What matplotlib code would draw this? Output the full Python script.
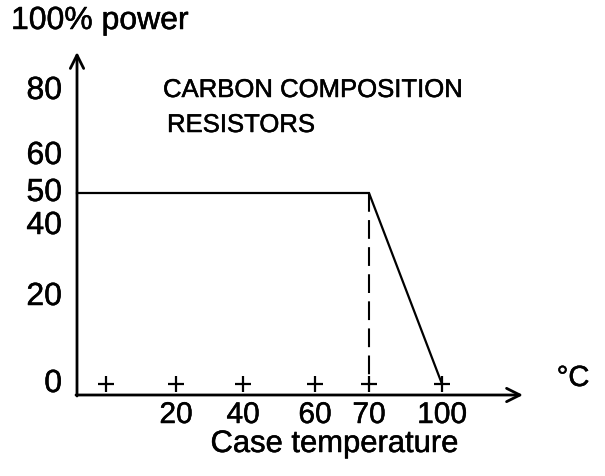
import numpy as np
import matplotlib
matplotlib.use("Agg")
import matplotlib.pyplot as plt
import matplotlib.transforms as mtrans
import matplotlib.patheffects as pe

# ---------------- data ----------------
temps = [0, 20, 40, 60, 70, 100]
temp_labels = ["", "20", "40", "60", "70", "100"]
power_ticks = [0, 20, 40, 50, 60, 80]
power_labels = ["0", "20", "40", "50", "60", "80"]
curve_temp = [70, 100]          # knee and zero-power point (flat part starts at the y axis)
curve_power = [50, 0]
flat_power = 50
knee_temp = [70, 70]
knee_power = [50, 0]

# ---------------- layout (schematic, non-uniform scales of the drawing) ----------------
W, H = 605, 477
x_scale_vals = [0, 20, 40, 60, 70, 100]
x_scale_px = [106, 176, 243, 315, 369, 442]
y_scale_vals = [0, 20, 40, 50, 60, 80]
y_scale_px = [92, 179, 250, 283, 320, 385]   # measured from bottom
YAXIS_PX = 77
XAXIS_PX = 396


def piecewise(xs, ys):
    xs = np.asarray(xs, float)
    ys = np.asarray(ys, float)
    s0 = (ys[1] - ys[0]) / (xs[1] - xs[0])
    s1 = (ys[-1] - ys[-2]) / (xs[-1] - xs[-2])

    def f(v):
        v = np.asarray(v, float)
        out = np.interp(v, xs, ys)
        out = np.where(v < xs[0], ys[0] + (v - xs[0]) * s0, out)
        out = np.where(v > xs[-1], ys[-1] + (v - xs[-1]) * s1, out)
        return out
    return f


fx, fxi = piecewise(x_scale_vals, x_scale_px), piecewise(x_scale_px, x_scale_vals)
fy, fyi = piecewise(y_scale_vals, y_scale_px), piecewise(y_scale_px, y_scale_vals)

plt.rcParams['font.family'] = ['Liberation Sans', 'DejaVu Sans']
bold_fx = [pe.withStroke(linewidth=0.35, foreground='black')]

fig = plt.figure(figsize=(W / 100, H / 100), dpi=100)
ax = fig.add_axes([0, 0, 1, 1])
ax.set_xscale('function', functions=(fx, fxi))
ax.set_yscale('function', functions=(fy, fyi))
ax.set_xlim(float(fxi(0)), float(fxi(W)))
ax.set_ylim(float(fyi(0)), float(fyi(H)))
ax.axis('off')


def P(x, y):
    """pixel position (from top-left) -> figure fraction"""
    return (x / W, 1 - y / H)


# axes with arrows
axis_kw = dict(arrowstyle='->', lw=2.0, color='black', mutation_scale=24,
               shrinkA=0, shrinkB=0)
ax.annotate('', xy=P(YAXIS_PX, 53), xytext=P(YAXIS_PX, XAXIS_PX + 1),
            xycoords='figure fraction', textcoords='figure fraction', arrowprops=axis_kw)
ax.annotate('', xy=P(523, XAXIS_PX), xytext=P(YAXIS_PX - 1, XAXIS_PX),
            xycoords='figure fraction', textcoords='figure fraction', arrowprops=axis_kw)

# derating curve: flat from the y axis to the knee, then linear down
axis_temp = float(fxi(YAXIS_PX))
ax.plot([axis_temp] + curve_temp, [flat_power] + curve_power, color='black', lw=1.6,
        solid_joinstyle='miter')
ax.plot(knee_temp, knee_power, color='black', lw=1.5, linestyle=(0, (9, 4)))

# tick crosses
ax.plot(temps, [0] * len(temps), linestyle='none', marker='+', ms=12,
        mew=1.6, color='black')

# tick labels
xlab_tr = ax.transData + mtrans.ScaledTranslation(0, -31 / 100, fig.dpi_scale_trans)
for t, lab in zip(temps, temp_labels):
    if lab:
        ax.text(t, 0, lab, ha='center', va='center', fontsize=21.5,
                transform=xlab_tr, path_effects=bold_fx)
ylab_tr = mtrans.blended_transform_factory(fig.transFigure, ax.transData)
for p, lab in zip(power_ticks, power_labels):
    ax.text(62 / W, p, lab, ha='right', va='center', fontsize=23,
            transform=ylab_tr, path_effects=bold_fx)

# titles / annotations
fig.text(*P(11, 22), '100% power', ha='left', va='center', fontsize=23, path_effects=bold_fx)
fig.text(*P(573, 379), '°C', ha='center', va='center', fontsize=21, path_effects=bold_fx)
fig.text(*P(335, 445), 'Case temperature', ha='center', va='center', fontsize=22.3,
         path_effects=bold_fx)
fig.text(*P(163, 91), 'CARBON COMPOSITION', ha='left', va='center', fontsize=18.5,
         path_effects=bold_fx)
fig.text(*P(167, 126), 'RESISTORS', ha='left', va='center', fontsize=18.5,
         path_effects=bold_fx)

fig.savefig('out.png', dpi=100)
